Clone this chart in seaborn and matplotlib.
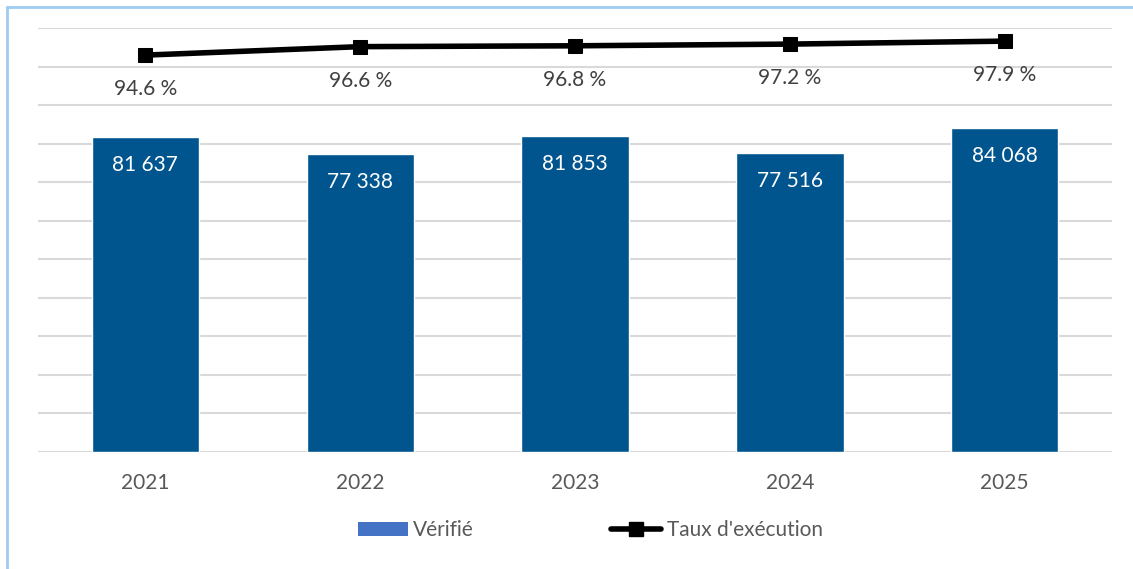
import matplotlib
matplotlib.use("Agg")
import matplotlib.pyplot as plt
import numpy as np
import pandas as pd
import seaborn as sns
from matplotlib.lines import Line2D
from matplotlib.patches import Patch

years = ["2021", "2022", "2023", "2024", "2025"]
verified = [81637, 77338, 81853, 77516, 84068]
exec_rate = [94.6, 96.6, 96.8, 97.2, 97.9]

bar_color = "#00558F"
W, H = 1133, 569

sns.set_theme(style="white")
plt.rcParams["font.family"] = ["Lato", "DejaVu Sans"]

df = pd.DataFrame({"year": years, "verified": verified})

fig = plt.figure(figsize=(W / 100, H / 100), dpi=100)
ax = fig.add_axes([38 / W, 1 - 451.7 / H, (1112 - 38) / W, (451.7 - 28) / H])

sns.barplot(data=df, x="year", y="verified", color=bar_color, width=0.5, saturation=1, ax=ax, zorder=2)
ax.set_ylim(0, 110000)
ax.set_yticks(np.arange(0, 110001, 10000))
ax.yaxis.grid(True, color="#D9D9D9", linewidth=1.5, zorder=0)
ax.set_axisbelow(True)
ax.set_xlabel("")
ax.set_ylabel("")
for s in ax.spines.values():
    s.set_visible(False)

for i, v in enumerate(verified):
    ax.text(i, v - 7200, f"{v:,}".replace(",", " "), ha="center", va="center",
            color="white", fontsize=15)

ax2 = ax.twinx()
sns.lineplot(x=np.arange(len(years)), y=exec_rate, ax=ax2, color="black", linewidth=4,
             marker="s", markersize=10, markeredgecolor="black")
ax2.set_ylim(1.0, 101.0)
ax2.axis("off")
for i, r in enumerate(exec_rate):
    ax2.text(i, r - 8.0, f"{r:.1f} %", ha="center", va="center", color="#404040", fontsize=15)

# twinx turns the left ticks back on, so hide them afterwards
ax.tick_params(axis="y", left=False, labelleft=False, right=False)
ax.tick_params(axis="x", bottom=False, labelsize=15, labelcolor="#595959", pad=9)
ax.set_xlim(-0.5, len(years) - 0.5)

handles = [
    Patch(facecolor="#4472C4", edgecolor="none"),
    Line2D([0], [0], color="black", linewidth=4, marker="s", markersize=10,
           solid_capstyle="round"),
]
fig.legend(handles, ["Vérifié", "Taux d'exécution"], loc="center", ncol=2,
           bbox_to_anchor=(0.521, 1 - 530 / H), frameon=False, fontsize=15,
           labelcolor="#595959", handlelength=2.4, handletextpad=0.25,
           columnspacing=6.6, handleheight=0.65)

# light blue frame on top and left
fig.add_artist(Line2D([7 / W, 1], [1 - 6.5 / H, 1 - 6.5 / H], color="#9DCBF2", linewidth=2))
fig.add_artist(Line2D([7 / W, 7 / W], [0, 1 - 6.5 / H], color="#9DCBF2", linewidth=2))

fig.savefig("out.png", dpi=100, facecolor="white")
